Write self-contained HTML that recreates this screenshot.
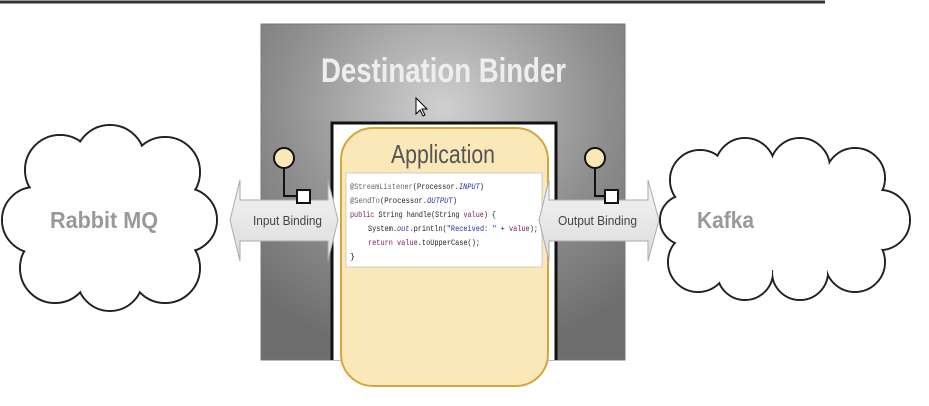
<!DOCTYPE html>
<html><head><meta charset="utf-8"><style>
body{margin:0;background:#fff;width:929px;height:401px;overflow:hidden;font-family:"Liberation Sans",sans-serif}
</style></head><body>
<svg width="929" height="401" xmlns="http://www.w3.org/2000/svg">
<defs>
<radialGradient id="g" cx="0.5" cy="0.25" r="0.75">
<stop offset="0" stop-color="#d0d0d0"/><stop offset="0.6" stop-color="#8e8e8e"/><stop offset="1" stop-color="#6e6e6e"/>
</radialGradient>
<linearGradient id="ar" x1="0" y1="0" x2="0" y2="1">
<stop offset="0" stop-color="#f4f4f4"/><stop offset="1" stop-color="#dcdcdc"/>
</linearGradient>
</defs>
<line x1="0" y1="2" x2="825" y2="2" stroke="#333" stroke-width="3"/>
<rect x="261" y="24" width="364" height="336" fill="url(#g)" stroke="#777"/>
<text x="321" y="82" textLength="245" lengthAdjust="spacingAndGlyphs" font-size="34" font-weight="bold" fill="#eeeeee">Destination Binder</text>
<path d="M416 98 l0 16 l4 -4 l3 6 l2 -1 l-3 -6 l5 0 z" fill="#fff" stroke="#000" stroke-width="1"/>
<rect x="332" y="123" width="224" height="237" fill="#fff"/>
<path d="M332 360 L332 123 L556 123 L556 360" fill="none" stroke="#111" stroke-width="3"/>
<rect x="341" y="128" width="207" height="258" rx="32" fill="#fbe8b8" stroke="#d5a63e" stroke-width="2"/>
<text x="391" y="163" textLength="104" lengthAdjust="spacingAndGlyphs" font-size="26" fill="#555">Application</text>
<rect x="346" y="173" width="196" height="94" fill="#fff" stroke="#ccc"/>
<g font-family="Liberation Mono,monospace" font-size="8.5" fill="#222" lengthAdjust="spacingAndGlyphs">
<text x="350" y="189" textLength="134" lengthAdjust="spacingAndGlyphs"><tspan fill="#666">@StreamListener</tspan>(Processor.<tspan fill="#2233aa" font-style="italic">INPUT</tspan>)</text>
<text x="350" y="203" textLength="107" lengthAdjust="spacingAndGlyphs"><tspan fill="#666">@SendTo</tspan>(Processor.<tspan fill="#2233aa" font-style="italic">OUTPUT</tspan>)</text>
<text x="350" y="217" textLength="146" lengthAdjust="spacingAndGlyphs"><tspan fill="#7a1a5a">public</tspan> String handle(String <tspan fill="#7a1a5a">value</tspan>) {</text>
<text x="368" y="231" textLength="170" lengthAdjust="spacingAndGlyphs">System.<tspan fill="#2233aa" font-style="italic">out</tspan>.println(<tspan fill="#2233aa">"Received: "</tspan> + <tspan fill="#7a1a5a">value</tspan>);</text>
<text x="368" y="245" textLength="112" lengthAdjust="spacingAndGlyphs"><tspan fill="#7a1a5a">return</tspan> <tspan fill="#7a1a5a">value</tspan>.toUpperCase();</text>
<text x="350" y="259">}</text>
</g>
<path d="M230 220 L240 180 L240 200 L328 200 L328 180 L338 220 L328 261 L328 241 L240 241 L240 261 Z" fill="url(#ar)" stroke="#aaa"/>
<text x="253" y="225" textLength="69" lengthAdjust="spacingAndGlyphs" font-size="13" fill="#444">Input Binding</text>
<path d="M539 220 L549 180 L549 200 L648 200 L648 180 L659 220 L648 261 L648 241 L549 241 L549 261 Z" fill="url(#ar)" stroke="#aaa"/>
<text x="558" y="225" textLength="79" lengthAdjust="spacingAndGlyphs" font-size="13" fill="#444">Output Binding</text>
<g stroke="#111" stroke-width="2">
<path d="M284 169 L284 196 L298 196" fill="none"/>
<circle cx="284" cy="158" r="10" fill="#fbe8b8"/>
<rect x="297" y="190" width="13" height="13" fill="#fff"/>
<path d="M595 169 L595 196 L606 196" fill="none"/>
<circle cx="595" cy="158" r="10" fill="#fbe8b8"/>
<rect x="605" y="190" width="13" height="13" fill="#fff"/>
</g>
<g stroke="#222" stroke-width="2" fill="#fff">
<circle cx="60" cy="170" r="35"/><circle cx="110" cy="160" r="35"/><circle cx="165" cy="172" r="35"/>
<circle cx="185" cy="220" r="32"/><circle cx="165" cy="268" r="35"/><circle cx="110" cy="278" r="33"/>
<circle cx="55" cy="268" r="35"/><circle cx="35" cy="220" r="33"/>
</g>
<g fill="#fff"><circle cx="60" cy="170" r="34"/><circle cx="110" cy="160" r="34"/><circle cx="165" cy="172" r="34"/>
<circle cx="185" cy="220" r="31"/><circle cx="165" cy="268" r="34"/><circle cx="110" cy="278" r="32"/>
<circle cx="55" cy="268" r="34"/><circle cx="35" cy="220" r="32"/><rect x="50" y="170" width="120" height="100"/></g>
<text x="50" y="228" textLength="108" lengthAdjust="spacingAndGlyphs" font-size="23" font-weight="bold" fill="#999">Rabbit MQ</text>
<g stroke="#222" stroke-width="2" fill="#fff">
<circle cx="700" cy="180" r="30"/><circle cx="745" cy="168" r="30"/><circle cx="800" cy="168" r="30"/><circle cx="855" cy="178" r="30"/>
<circle cx="880" cy="220" r="30"/><circle cx="855" cy="262" r="30"/><circle cx="800" cy="272" r="28"/><circle cx="745" cy="272" r="28"/>
<circle cx="698" cy="262" r="30"/><circle cx="685" cy="220" r="25"/>
</g>
<g fill="#fff">
<circle cx="700" cy="180" r="29"/><circle cx="745" cy="168" r="29"/><circle cx="800" cy="168" r="29"/><circle cx="855" cy="178" r="29"/>
<circle cx="880" cy="220" r="29"/><circle cx="855" cy="262" r="29"/><circle cx="800" cy="272" r="27"/><circle cx="745" cy="272" r="27"/>
<circle cx="698" cy="262" r="29"/><circle cx="685" cy="220" r="24"/><rect x="700" y="170" width="160" height="100"/>
</g>
<text x="697" y="228" textLength="57" lengthAdjust="spacingAndGlyphs" font-size="23" font-weight="bold" fill="#999">Kafka</text>
</svg>
</body></html>
